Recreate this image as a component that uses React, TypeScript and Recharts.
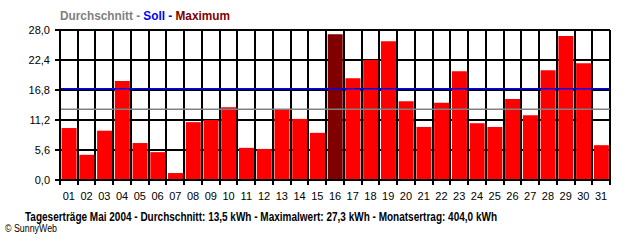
import { BarChart, Bar, XAxis, YAxis, CartesianGrid, ReferenceLine, Cell } from "recharts";

const days = [
  "01", "02", "03", "04", "05", "06", "07", "08", "09", "10", "11", "12", "13", "14", "15", "16",
  "17", "18", "19", "20", "21", "22", "23", "24", "25", "26", "27", "28", "29", "30", "31",
];
const yields = [
  9.7, 4.7, 9.2, 18.5, 6.9, 5.2, 1.3, 10.8, 11.2, 13.6, 6.0, 5.8, 13.2, 11.4, 8.8, 27.2,
  19.0, 22.4, 25.9, 14.7, 9.9, 14.4, 20.3, 10.6, 9.9, 15.1, 12.1, 20.5, 26.9, 21.8, 6.5,
];
const yTicks = [0, 5.6, 11.2, 16.8, 22.4, 28];
const average = 13.2;
const target = 17.05;
const maxDay = "16";

const W = 640;
const H = 240;
const LEFT = 60;
const RIGHT = 610;
const FONT = "'Liberation Sans', Arial, sans-serif";

const data = days.map((day, i) => ({ day, kwh: yields[i] }));
const band = (RIGHT - LEFT) / days.length;

const fmt = (v: number) => v.toFixed(1).replace(".", ",");

// x tick: label in the middle, small tick mark on the band boundaries
const DayTick = (props: any) => {
  const { x, y, payload, index } = props;
  const left = Math.round(x - band / 2);
  const right = Math.round(x + band / 2);
  return (
    <g>
      <line x1={left} x2={left} y1={y - 4} y2={y + 1} stroke="#000" strokeWidth={2} />
      {index === days.length - 1 && (
        <line x1={right} x2={right} y1={y - 4} y2={y + 1} stroke="#000" strokeWidth={2} />
      )}
      <text x={x} y={y + 16} textAnchor="middle" fontSize={11} fontFamily={FONT} fill="#000">
        {payload.value}
      </text>
    </g>
  );
};

export default function App() {
  return (
    <div style={{ position: "absolute", left: 0, top: 0, width: W, height: H, background: "#fff" }}>
      <BarChart
        width={W}
        height={H}
        data={data}
        margin={{ top: 30, right: W - RIGHT, left: 0, bottom: 30 }}
        barCategoryGap="9%"
      >
        <CartesianGrid
          stroke="#000"
          strokeWidth={2}
          verticalCoordinatesGenerator={({ offset }: any) =>
            Array.from({ length: days.length + 1 }, (_, i) =>
              Math.round(offset.left + (i * offset.width) / days.length)
            )
          }
        />
        <XAxis
          dataKey="day"
          height={30}
          interval={0}
          tickLine={false}
          tickSize={4}
          tickMargin={0}
          axisLine={{ stroke: "#000", strokeWidth: 2 }}
          tick={<DayTick />}
        />
        <YAxis
          width={LEFT}
          domain={[0, 28]}
          ticks={yTicks}
          tickFormatter={fmt}
          tickSize={5}
          tickMargin={5}
          axisLine={{ stroke: "#000", strokeWidth: 2 }}
          tickLine={{ stroke: "#000", strokeWidth: 2 }}
          tick={{ fill: "#000", fontSize: 11, fontFamily: FONT }}
        />
        <Bar dataKey="kwh" isAnimationActive={false}>
          {data.map((d) => (
            <Cell key={d.day} fill={d.day === maxDay ? "#800000" : "#ff0000"} />
          ))}
        </Bar>
        <ReferenceLine y={average} stroke="#808080" strokeWidth={1.5} />
        <ReferenceLine y={target} stroke="#0000ff" strokeWidth={1.5} />
      </BarChart>
      <svg
        width={W}
        height={H}
        style={{ position: "absolute", left: 0, top: 0, pointerEvents: "none" }}
      >
        <text
          x={60}
          y={20}
          fontSize={12}
          fontWeight="bold"
          fontFamily={FONT}
          textLength={170}
          lengthAdjust="spacingAndGlyphs"
        >
          <tspan fill="#808080">Durchschnitt - </tspan>
          <tspan fill="#0000ff">Soll - </tspan>
          <tspan fill="#800000">Maximum</tspan>
        </text>
        <text
          x={25}
          y={221}
          fontSize={12}
          fontWeight="bold"
          fontFamily={FONT}
          fill="#000"
          textLength={472}
          lengthAdjust="spacingAndGlyphs"
        >
          Tageserträge Mai 2004 - Durchschnitt: 13,5 kWh - Maximalwert: 27,3 kWh - Monatsertrag: 404,0 kWh
        </text>
        <text
          x={5}
          y={232}
          fontSize={10}
          fontFamily={FONT}
          fill="#000"
          textLength={52}
          lengthAdjust="spacingAndGlyphs"
        >
          © SunnyWeb
        </text>
      </svg>
    </div>
  );
}
